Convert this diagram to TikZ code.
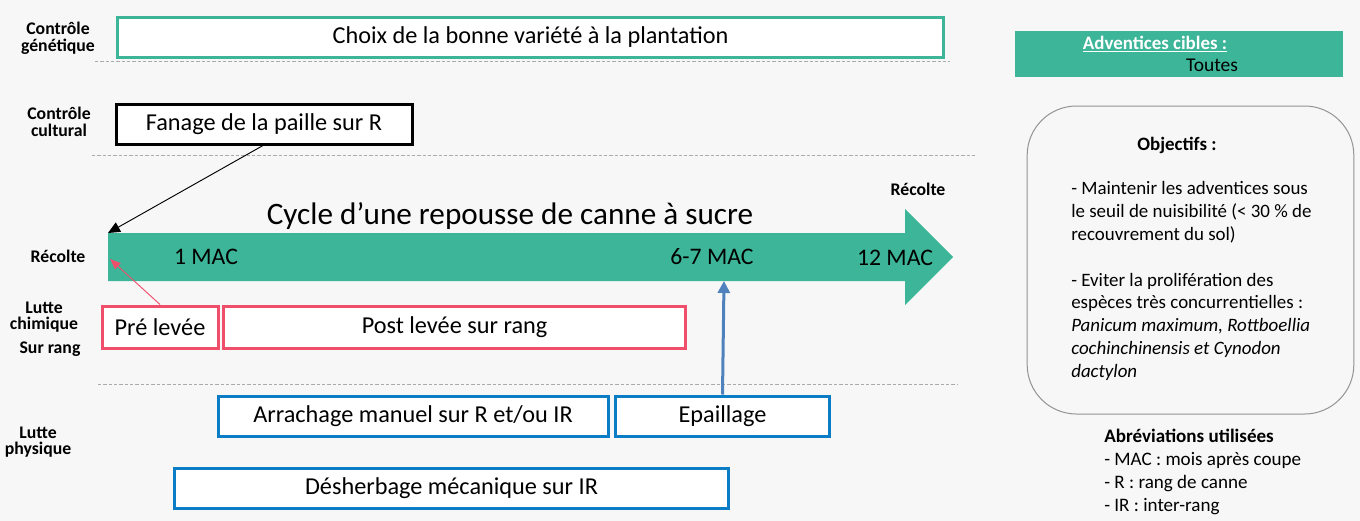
\documentclass[tikz,border=0pt]{standalone}
\usepackage{fontspec}
\setmainfont{Carlito}
\usetikzlibrary{arrows.meta}
\definecolor{bg}{HTML}{F7F7F7}
\definecolor{teal}{HTML}{3DB598}
\definecolor{pinkc}{HTML}{EF4F6B}
\definecolor{bluec}{HTML}{0A7DC4}
\definecolor{arrblue}{HTML}{4F81BD}
\definecolor{dashg}{HTML}{AAAAAA}
\begin{document}
\begin{tikzpicture}[x=0.75pt,y=-0.75pt,
  bx/.style={draw, line width=2.25pt, fill=white, inner sep=0pt, font=\fontsize{18.2}{21}\selectfont},
  lab/.style={font=\bfseries\fontsize{13.3}{12.5}\selectfont, align=center, inner sep=0pt},
  sep/.style={draw=dashg, dash pattern=on 2.5pt off 1.5pt, line width=0.6pt},
  mac/.style={font=\fontsize{17.8}{20}\selectfont, inner sep=0pt},
  rt/.style={font=\fontsize{14.2}{17.25}\selectfont, inner sep=0pt, anchor=base west}
]
\useasboundingbox (0,0) rectangle (1360,521);
\fill[bg] (0,0) rectangle (1360,521);

% left labels
\node[lab] (lg) at (58,38) {Contrôle\\génétique};
\node[lab] (lc) at (59,122) {Contrôle\\cultural};
\node[lab] (lr) at (58,256) {Récolte};
\node[lab] (llc) at (44,317) {Lutte\\chimique};
\node[lab] (lsr) at (50,349) {Sur rang};
\node[lab] (lp) at (38,442) {Lutte\\physique};

% separators
\draw[sep] (95,61) -- (950,61);
\draw[sep] (92,155) -- (975,155);
\draw[sep] (98,384) -- (958,384);

% boxes
\node[bx, draw=teal, minimum width=620pt, minimum height=30pt] (choix) at (530.5,37) {Choix de la bonne variété à la plantation};
\node[bx, draw=black, minimum width=222pt, minimum height=30pt] (fan) at (264,124) {Fanage de la paille sur R};
\node[bx, draw=pinkc, minimum width=87pt, minimum height=31.5pt] (pre) at (160,327) {Pré levée};
\node[bx, draw=pinkc, minimum width=347pt, minimum height=31.5pt] (post) at (454.5,327) {Post levée sur rang};
\node[bx, draw=bluec, minimum width=292.5pt, minimum height=30pt] (arr) at (413,416) {Arrachage manuel sur R et/ou IR};
\node[bx, draw=bluec, minimum width=161pt, minimum height=30pt] (epa) at (722.5,416) {Epaillage};
\node[bx, draw=bluec, minimum width=416pt, minimum height=30pt] (des) at (451.5,488) {Désherbage mécanique sur IR};

% big arrow
\fill[teal] (108,233) -- (905,233) -- (905,209) -- (953,257) -- (905,305) -- (905,281) -- (108,281) -- cycle;
\coordinate (start) at (108,233);
\coordinate (startmid) at (110,259);
\coordinate (m67) at (724,281);
\node[font=\fontsize{23.4}{27}\selectfont, inner sep=0pt] (title) at (510,216) {Cycle d’une repousse de canne à sucre};
\node[lab] (rr) at (918,189) {Récolte};
\node[mac] (m1) at (206,257) {1 MAC};
\node[mac] (m2) at (712,257) {6-7 MAC};
\node[mac] (m3) at (895,258) {12 MAC};

% connectors
\draw[line width=0.7pt, -{Triangle[length=9pt,width=8pt]}] (fan.south) ++(-1,0) coordinate (fs) (fs) -- (start);
\draw[pinkc, line width=0.7pt, -{Triangle[length=8pt,width=6pt]}] (pre.north) -- (startmid);
\draw[arrblue, line width=2.25pt, -{Triangle[length=9pt,width=9pt]}] (epa.north) -- (m67);

% right panel
\node[fill=teal, minimum width=246pt, minimum height=34.5pt, inner sep=0pt] (adv) at (1179,54) {};
\node[font=\bfseries\fontsize{14.2}{15}\selectfont, text=white, inner sep=0pt] (advt) at (1155,44) {\underline{Adventices cibles :}};
\node[font=\fontsize{14.6}{15}\selectfont, inner sep=0pt] (tout) at (1212,65) {Toutes};

\node[draw=gray!85, line width=0.75pt, rounded corners=37pt, minimum width=245pt, minimum height=231pt, inner sep=0pt] (obj) at (1190.5,260) {};
\node[font=\bfseries\fontsize{14.2}{15}\selectfont, inner sep=0pt] (objt) at (1177,145) {Objectifs :};
\node[rt] (o1) at (1071,194) {- Maintenir les adventices sous};
\node[rt] (o2) at (1071,217) {le seuil de nuisibilité (< 30 \% de};
\node[rt] (o3) at (1071,240) {recouvrement du sol)};
\node[rt] (o4) at (1071,286) {- Eviter la prolifération des};
\node[rt] (o5) at (1071,308) {espèces très concurrentielles :};
\node[rt] (o6) at (1071,331) {\itshape Panicum maximum, Rottboellia};
\node[rt] (o7) at (1071,354) {\itshape cochinchinensis et Cynodon};
\node[rt] (o8) at (1071,377) {\itshape dactylon};

\node[rt, font=\bfseries\fontsize{14.3}{15}\selectfont] (ab) at (1104,442) {Abréviations utilisées};
\node[rt, font=\fontsize{14.3}{15}\selectfont] (a1) at (1104,465) {- MAC : mois après coupe};
\node[rt, font=\fontsize{14.3}{15}\selectfont] (a2) at (1104,488) {- R : rang de canne};
\node[rt, font=\fontsize{14.3}{15}\selectfont] (a3) at (1104,511) {- IR : inter-rang};
\end{tikzpicture}
\end{document}
